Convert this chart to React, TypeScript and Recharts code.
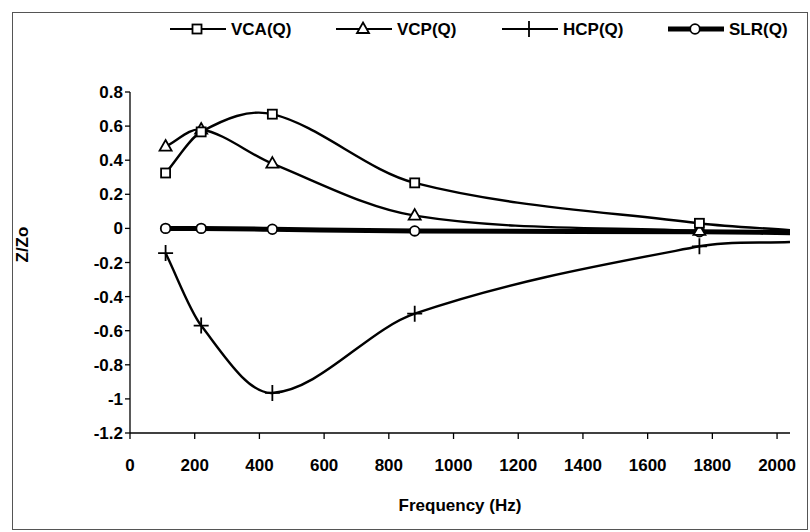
import {
  LineChart, Line, XAxis, YAxis, Legend, Label,
} from 'recharts';

// frequencies (Hz); last entry is where the lines run off the plot edge
const freq = [110, 220, 440, 880, 1760, 2040];
const vca  = [0.325, 0.566, 0.67, 0.267, 0.03, -0.01];
const vcp  = [0.48, 0.58, 0.38, 0.075, -0.015, -0.02];
const hcp  = [-0.145, -0.57, -0.965, -0.5, -0.105, -0.08];
const slr  = [0, 0, -0.005, -0.015, -0.02, -0.025];

const xTicks = [0, 200, 400, 600, 800, 1000, 1200, 1400, 1600, 1800, 2000];
const yTicks = [-1.2, -1, -0.8, -0.6, -0.4, -0.2, 0, 0.2, 0.4, 0.6, 0.8];

const data = freq.map((f, i) => ({ f, vca: vca[i], vcp: vcp[i], hcp: hcp[i], slr: slr[i] }));

const FONT = '"Liberation Sans", Arial, sans-serif';

// smoothed line like the spreadsheet's: cubic Hermite with centred slopes
function smoothCurve(context: any) {
  let pts: [number, number][] = [];
  return {
    areaStart() {},
    areaEnd() {},
    lineStart() { pts = []; },
    lineEnd() {
      const n = pts.length;
      if (!n) return;
      const slope = (a: [number, number], b: [number, number]) => (b[1] - a[1]) / (b[0] - a[0] || 1);
      const m = pts.map((p, i) => {
        if (n < 2) return 0;
        if (i === 0) return slope(p, pts[1]);
        if (i === n - 1) return slope(pts[n - 2], p);
        return slope(pts[i - 1], pts[i + 1]);
      });
      context.moveTo(pts[0][0], pts[0][1]);
      for (let i = 0; i < n - 1; i++) {
        const p1 = pts[i];
        const p2 = pts[i + 1];
        const h = (p2[0] - p1[0]) / 3;
        context.bezierCurveTo(p1[0] + h, p1[1] + m[i] * h, p2[0] - h, p2[1] - m[i + 1] * h, p2[0], p2[1]);
      }
    },
    point(x: number, y: number) { pts.push([+x, +y]); },
  };
}

type Shape = 'square' | 'triangle' | 'plus' | 'circle';

function marker(shape: Shape, cx: number, cy: number, key?: string) {
  switch (shape) {
    case 'square':
      return <rect key={key} x={cx - 4.5} y={cy - 4.5} width={9} height={9} fill="#fff" stroke="#000" strokeWidth={1.8} />;
    case 'triangle':
      return <path key={key} d={`M${cx},${cy - 6.5}L${cx + 6},${cy + 4}L${cx - 6},${cy + 4}Z`} fill="#fff" stroke="#000" strokeWidth={1.8} />;
    case 'plus':
      return <path key={key} d={`M${cx - 7.5},${cy}H${cx + 7.5}M${cx},${cy - 8}V${cy + 8}`} stroke="#000" strokeWidth={1.8} fill="none" />;
    default:
      return <circle key={key} cx={cx} cy={cy} r={4.8} fill="#fff" stroke="#000" strokeWidth={1.8} />;
  }
}

const dotFor = (shape: Shape) => (props: any) => {
  const { cx, cy, index, payload } = props;
  const k = `${shape}-${index}`;
  if (payload.f > 2000) return <g key={k} />;
  return marker(shape, cx, cy, k);
};

const legendItems: { label: string; shape: Shape; width: number }[] = [
  { label: 'VCA(Q)', shape: 'square', width: 2.2 },
  { label: 'VCP(Q)', shape: 'triangle', width: 2.2 },
  { label: 'HCP(Q)', shape: 'plus', width: 2.2 },
  { label: 'SLR(Q)', shape: 'circle', width: 5 },
];

function LegendBox() {
  return (
    <svg width={640} height={30} style={{ fontFamily: FONT }}>
      {legendItems.map((it, i) => {
        const x0 = i * 166;
        return (
          <g key={it.label}>
            <line x1={x0} x2={x0 + 56} y1={15} y2={15} stroke="#000" strokeWidth={it.width} />
            {marker(it.shape, x0 + 27, 15)}
            <text x={x0 + 61} y={21} fontSize={17} fontWeight="bold" fill="#000">{it.label}</text>
          </g>
        );
      })}
    </svg>
  );
}

const tickStyle = { fill: '#000', fontSize: 17, fontWeight: 'bold' };

export default function App() {
  return (
    <div style={{ position: 'absolute', left: 0, top: 0, width: 810, height: 532, background: '#fff' }}>
      <div style={{ position: 'absolute', left: 12, top: 12, width: 794, height: 516, border: '1px solid #555' }} />
      <LineChart
        width={810}
        height={532}
        data={data}
        margin={{ top: 92, right: 20, left: 70, bottom: 67 }}
        style={{ fontFamily: FONT }}
      >
        <XAxis
          dataKey="f"
          type="number"
          domain={[0, 2040]}
          ticks={xTicks}
          allowDataOverflow
          height={32}
          stroke="#000"
          strokeWidth={1.3}
          tickSize={6}
          tick={tickStyle}
          tickMargin={20}
        >
          <Label value="Frequency (Hz)" position="insideBottom" offset={-46} fill="#000" fontSize={17} fontWeight="bold" />
        </XAxis>
        <YAxis
          type="number"
          domain={[-1.2, 0.8]}
          ticks={yTicks}
          width={60}
          stroke="#000"
          strokeWidth={1.3}
          tickSize={5}
          tick={tickStyle}
          tickFormatter={(v: number) => String(Math.round(v * 10) / 10)}
        >
          <Label value="Z/Zo" angle={-90} position="insideLeft" offset={-48} fill="#000" fontSize={17} fontWeight="bold" />
        </YAxis>
        <Legend
          layout="vertical"
          align="center"
          verticalAlign="middle"
          wrapperStyle={{ top: 14, left: 170, width: 640 }}
          content={() => <LegendBox />}
        />
        <Line dataKey="slr" type={smoothCurve as any} stroke="#000" strokeWidth={5} dot={dotFor('circle')} isAnimationActive={false} />
        <Line dataKey="hcp" type={smoothCurve as any} stroke="#000" strokeWidth={2.4} dot={dotFor('plus')} isAnimationActive={false} />
        <Line dataKey="vcp" type={smoothCurve as any} stroke="#000" strokeWidth={2.4} dot={dotFor('triangle')} isAnimationActive={false} />
        <Line dataKey="vca" type={smoothCurve as any} stroke="#000" strokeWidth={2.4} dot={dotFor('square')} isAnimationActive={false} />
      </LineChart>
    </div>
  );
}
